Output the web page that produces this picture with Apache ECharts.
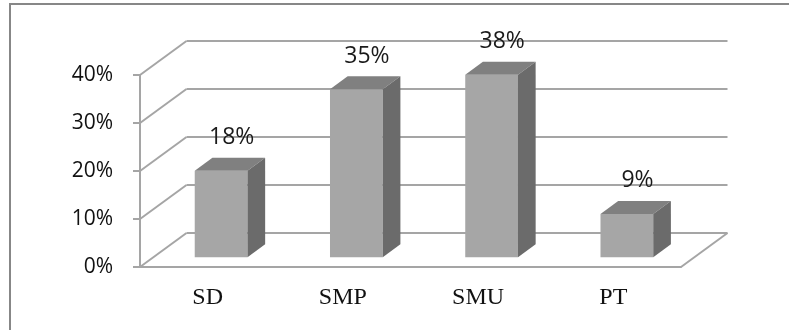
<!DOCTYPE html>
<html>
<head>
<meta charset="utf-8">
<script src="https://cdn.jsdelivr.net/npm/echarts@6/dist/echarts.min.js"></script>
<style>
  html, body { margin: 0; padding: 0; background: #fff; }
  #chart { width: 789px; height: 330px; }
</style>
</head>
<body>
<div id="chart"></div>
<script>
var categories = ['SD', 'SMP', 'SMU', 'PT'];
var values = [0.18, 0.35, 0.38, 0.09];
var yTicks = [0, 0.1, 0.2, 0.3, 0.4];

// depth of the fake 3d box (pixels)
var DX = 46.5, DY = -34;
var gridColor = '#a5a5a5';

var myChart = echarts.init(document.getElementById('chart'));

function pct(v) {
    return Math.round(v * 100) + '%';
}

var option = {
    animation: false,
    grid: { left: 140, top: 75, right: 108, bottom: 63 },
    graphic: [
        { type: 'line', shape: { x1: 9, y1: 4, x2: 789, y2: 4 }, style: { stroke: '#878787', lineWidth: 2 } },
        { type: 'line', shape: { x1: 10, y1: 4, x2: 10, y2: 330 }, style: { stroke: '#878787', lineWidth: 2 } }
    ],
    xAxis: {
        type: 'category',
        data: categories,
        axisLine: { lineStyle: { color: gridColor, width: 2 } },
        axisTick: { length: 5, lineStyle: { color: gridColor, width: 2 } },
        axisLabel: {
            margin: 19,
            fontFamily: 'Liberation Serif',
            fontSize: 24,
            color: '#111'
        },
        splitLine: { show: false }
    },
    yAxis: {
        type: 'value',
        min: 0,
        max: 0.4,
        interval: 0.1,
        axisLine: { show: true, lineStyle: { color: gridColor, width: 2 } },
        axisTick: { show: true, length: 7, lineStyle: { color: gridColor, width: 2 } },
        axisLabel: {
            margin: 27,
            fontFamily: 'Open Sans',
            fontSize: 21,
            color: '#111',
            padding: [7, 0, 0, 0],
            formatter: pct
        },
        splitLine: { show: false }
    },
    series: [
        {
            // back wall + left wall grid lines
            type: 'custom',
            clip: false,
            silent: true,
            z: 1,
            data: yTicks.map(function (v) { return [0, v]; }),
            renderItem: function (params, api) {
                var cs = params.coordSys;
                var y = api.coord([0, api.value(1)])[1];
                var x0 = cs.x, x1 = cs.x + cs.width;
                var st = { stroke: gridColor, lineWidth: 2 };
                var children = [
                    { type: 'line', shape: { x1: x0, y1: y, x2: x0 + DX, y2: y + DY }, style: st },
                    { type: 'line', shape: { x1: x0 + DX, y1: y + DY, x2: x1 + DX, y2: y + DY }, style: st }
                ];
                if (api.value(1) === 0) {
                    children.push({ type: 'line', shape: { x1: x1, y1: y, x2: x1 + DX, y2: y + DY }, style: st });
                }
                return { type: 'group', children: children };
            }
        },
        {
            type: 'custom',
            clip: false,
            z: 2,
            data: values.map(function (v, i) { return [i, v]; }),
            renderItem: function (params, api) {
                var i = api.value(0), v = api.value(1);
                var base = api.coord([i, 0]);
                var top = api.coord([i, v]);
                var band = api.size([1, 0])[0];
                var w = band * 0.39;
                var f = 0.29, d = 0.38;
                var fx = base[0] - w / 2 + f * DX;
                var fy0 = base[1] + f * DY;
                var fy1 = top[1] + f * DY;
                var dx = d * DX, dy = d * DY;
                return {
                    type: 'group',
                    children: [
                        {
                            type: 'rect',
                            shape: { x: fx, y: fy1, width: w, height: fy0 - fy1 },
                            style: { fill: '#a6a6a6' }
                        },
                        {
                            type: 'polygon',
                            shape: { points: [[fx, fy1], [fx + w, fy1], [fx + w + dx, fy1 + dy], [fx + dx, fy1 + dy]] },
                            style: { fill: '#808080' }
                        },
                        {
                            type: 'polygon',
                            shape: { points: [[fx + w, fy1], [fx + w + dx, fy1 + dy], [fx + w + dx, fy0 + dy], [fx + w, fy0]] },
                            style: { fill: '#6b6b6b' }
                        },
                        {
                            type: 'text',
                            style: {
                                x: fx + w / 2 + dx * 0.6,
                                y: fy1 - 33,
                                text: pct(v),
                                align: 'center',
                                verticalAlign: 'middle',
                                fontFamily: 'Open Sans',
                                fontSize: 23,
                                fill: '#1a1a1a'
                            }
                        }
                    ]
                };
            }
        }
    ]
};
myChart.setOption(option);
</script>
</body>
</html>
